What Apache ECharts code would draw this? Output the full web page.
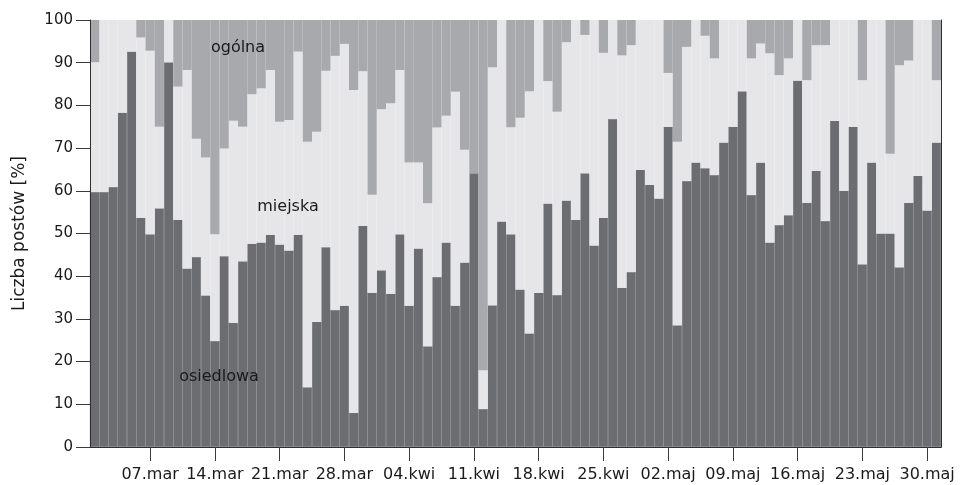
<!DOCTYPE html>
<html>
<head>
<meta charset="utf-8">
<script src="https://cdn.jsdelivr.net/npm/echarts@6/dist/echarts.min.js"></script>
<style>
  html, body { margin: 0; padding: 0; background: #ffffff; }
  #chart { width: 965px; height: 485px; }
</style>
</head>
<body>
<div id="chart"></div>
<script>
// Months and their day counts (Mar 1 – May 31)
var months = ['mar', 'kwi', 'maj'];
var monthDays = [31, 30, 31];

// Tick labels shown on the x axis
var tickLabels = ['07.mar', '14.mar', '21.mar', '28.mar', '04.kwi', '11.kwi', '18.kwi',
                  '25.kwi', '02.maj', '09.maj', '16.maj', '23.maj', '30.maj'];

// osiedlowa (bottom, dark) [%]
var osiedlowa = [
  59.7, 59.7, 60.9, 78.3, 92.6, 53.7, 49.8, 55.9, 90.1, 53.2,
  41.8, 44.5, 35.5, 24.8, 44.7, 29.1, 43.5, 47.6, 47.9, 49.7,
  47.4, 46.0, 49.7, 14.0, 29.3, 46.8, 32.1, 33.1,  8.0, 51.8,
  36.1, 41.4, 35.9, 49.8, 33.1, 46.5, 23.6, 39.8, 47.9, 33.1,
  43.2, 64.1,  8.9, 33.2, 52.8, 49.8, 36.9, 26.6, 36.1, 57.0,
  35.6, 57.7, 53.2, 64.1, 47.2, 53.7, 76.8, 37.3, 41.0, 64.9,
  61.4, 58.2, 75.0, 28.5, 62.3, 66.6, 65.3, 63.7, 71.3, 75.0,
  83.3, 59.0, 66.6, 47.9, 52.0, 54.3, 85.8, 57.2, 64.7, 52.9,
  76.4, 60.0, 75.0, 42.8, 66.6, 50.0, 50.0, 42.1, 57.2, 63.5,
  55.4, 71.3
];

// miejska (middle, light) [%]
var miejska = [
  30.4, 40.3, 39.1, 21.7,  7.4, 42.2, 43.0, 19.1,  9.9, 31.2,
  46.5, 27.7, 32.3, 25.0, 25.2, 47.3, 31.5, 35.0, 36.1, 38.6,
  28.8, 30.6, 42.9, 57.5, 44.5, 41.3, 59.5, 61.3, 75.6, 36.2,
  23.0, 37.7, 44.6, 38.5, 33.5, 20.1, 33.5, 35.0, 29.7, 50.1,
  26.4,  0.0,  9.1, 55.7, 47.2, 25.1, 40.2, 56.7, 63.9, 28.7,
  42.9, 37.1, 46.8, 32.4, 52.8, 38.6, 23.2, 54.4, 53.1, 35.1,
  38.6, 41.8, 12.6, 43.0, 31.4, 33.4, 31.0, 27.3, 28.7, 25.0,
  16.7, 32.0, 27.9, 44.3, 35.1, 36.7, 14.2, 28.7, 29.4, 41.2,
  23.6, 40.0, 25.0, 43.1, 33.4, 50.0, 18.7, 47.3, 33.3, 36.5,
  44.6, 14.6
];

// ogólna (top, medium) [%]
var ogolna = [
   9.9,  0.0,  0.0,  0.0,  0.0,  4.1,  7.2, 25.0,  0.0, 15.6,
  11.7, 27.8, 32.2, 50.2, 30.1, 23.6, 25.0, 17.4, 16.0, 11.7,
  23.8, 23.4,  7.4, 28.5, 26.2, 11.9,  8.4,  5.6, 16.4, 12.0,
  40.9, 20.9, 19.5, 11.7, 33.4, 33.4, 42.9, 25.2, 22.4, 16.8,
  30.4, 35.9, 82.0, 11.1,  0.0, 25.1, 22.9, 16.7,  0.0, 14.3,
  21.5,  5.2,  0.0,  3.5,  0.0,  7.7,  0.0,  8.3,  5.9,  0.0,
   0.0,  0.0, 12.4, 28.5,  6.3,  0.0,  3.7,  9.0,  0.0,  0.0,
   0.0,  9.0,  5.5,  7.8, 12.9,  9.0,  0.0, 14.1,  5.9,  5.9,
   0.0,  0.0,  0.0, 14.1,  0.0,  0.0, 31.3, 10.6,  9.5,  0.0,
   0.0, 14.1
];

// Category labels: one per day
var categories = [];
for (var m = 0; m < months.length; m++) {
  for (var d = 1; d <= monthDays[m]; d++) {
    categories.push((d < 10 ? '0' + d : '' + d) + '.' + months[m]);
  }
}

var FONT = 'DejaVu Sans';
var TXT = '#1a1a1a';
var AXIS = '#2e2e2e';

function showTick(index, value) { return tickLabels.indexOf(value) >= 0; }

var chart = echarts.init(document.getElementById('chart'), null, { renderer: 'canvas' });

var option = {
  animation: false,
  backgroundColor: '#ffffff',
  grid: { left: 90, right: 24, top: 20, bottom: 38, containLabel: false },
  xAxis: [{
    type: 'category',
    data: categories,
    boundaryGap: true,
    z: 10,
    axisLine: { show: true, lineStyle: { color: AXIS, width: 1 } },
    axisTick: { show: true, alignWithLabel: true, interval: showTick, length: 14, lineStyle: { color: '#3a3a3a', width: 1 } },
    axisLabel: { show: true, interval: showTick, margin: 20, fontFamily: FONT, fontSize: 16, color: TXT },
    splitLine: { show: false }
  }, {
    type: 'category',
    data: categories,
    position: 'top',
    z: 10,
    axisLine: { show: true, lineStyle: { color: AXIS, width: 1 } },
    axisTick: { show: false },
    axisLabel: { show: false },
    splitLine: { show: false }
  }],
  yAxis: [{
    type: 'value',
    min: 0,
    max: 100,
    interval: 10,
    z: 10,
    name: 'Liczba postów [%]',
    nameLocation: 'middle',
    nameGap: 62,
    nameTextStyle: { fontFamily: FONT, fontSize: 17, color: TXT },
    axisLine: { show: true, lineStyle: { color: AXIS, width: 1 } },
    axisTick: { show: true, length: 14, lineStyle: { color: '#3a3a3a', width: 1 } },
    axisLabel: { show: true, margin: 17, fontFamily: FONT, fontSize: 15, color: TXT },
    splitLine: { show: false }
  }, {
    type: 'value',
    min: 0,
    max: 100,
    position: 'right',
    z: 10,
    axisLine: { show: true, lineStyle: { color: AXIS, width: 1 } },
    axisTick: { show: false },
    axisLabel: { show: false },
    splitLine: { show: false }
  }],
  series: [{
    name: 'osiedlowa',
    type: 'bar',
    stack: 'all',
    data: osiedlowa,
    barCategoryGap: '0%',
    itemStyle: { color: '#6c6d71', borderColor: '#717276', borderWidth: 0.4 }
  }, {
    name: 'miejska',
    type: 'bar',
    stack: 'all',
    data: miejska,
    barCategoryGap: '0%',
    itemStyle: { color: '#e6e6e8', borderWidth: 0 }
  }, {
    name: 'ogólna',
    type: 'bar',
    stack: 'all',
    data: ogolna,
    barCategoryGap: '0%',
    itemStyle: { color: '#a8a9ac', borderWidth: 0 }
  }],
  graphic: [
    { type: 'text', x: 238, y: 48, z: 20, style: { text: 'ogólna', font: '16px "DejaVu Sans"', fill: TXT, textAlign: 'center', textVerticalAlign: 'middle' } },
    { type: 'text', x: 288, y: 207, z: 20, style: { text: 'miejska', font: '16px "DejaVu Sans"', fill: TXT, textAlign: 'center', textVerticalAlign: 'middle' } },
    { type: 'text', x: 219, y: 377, z: 20, style: { text: 'osiedlowa', font: '16px "DejaVu Sans"', fill: TXT, textAlign: 'center', textVerticalAlign: 'middle' } }
  ]
};

chart.setOption(option);
</script>
</body>
</html>
